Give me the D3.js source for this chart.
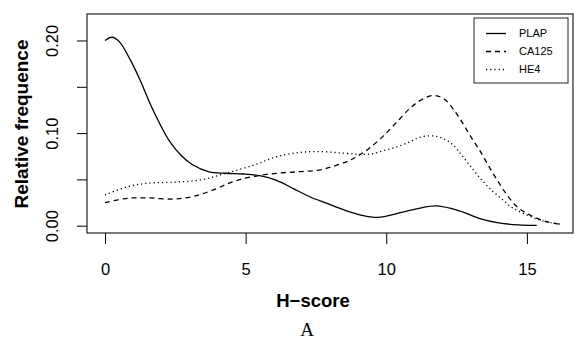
<!DOCTYPE html>
<html>
<head>
<meta charset="utf-8">
<script src="https://cdn.jsdelivr.net/npm/d3@7"></script>
<style>
  body { margin: 0; background: #fff; }
  svg { display: block; font-family: "Liberation Sans", Arial, sans-serif; }
</style>
</head>
<body>
<div id="chart"></div>
<script>
// H-score values and relative frequences
var plapX = [0, 0.25, 0.5, 0.9, 1.25, 1.6, 2.0, 2.3, 2.7, 3.1, 3.7, 4.3, 4.9, 5.5, 6.1, 6.7, 7.3, 7.9, 8.5, 9.1, 9.7, 10.5, 11.2, 11.8, 12.6, 13.3, 14.0, 14.7, 15.35];
var plapY = [0.200, 0.2035, 0.199, 0.179, 0.157, 0.132, 0.107, 0.091, 0.076, 0.066, 0.058, 0.0566, 0.0558, 0.054, 0.049, 0.040, 0.031, 0.024, 0.017, 0.0115, 0.009, 0.014, 0.019, 0.0213, 0.016, 0.008, 0.003, 0.0009, 0.0004];

var ca125X = [0, 0.8, 1.5, 2.4, 3.1, 3.85, 4.55, 5.25, 6.1, 6.9, 7.6, 8.1, 8.5, 8.8, 9.1, 9.4, 9.9, 10.35, 10.85, 11.2, 11.65, 12.05, 12.45, 12.75, 13.05, 13.35, 13.65, 13.95, 14.25, 14.65, 15.1, 15.7, 16.2];
var ca125Y = [0.0248, 0.0296, 0.030, 0.0288, 0.0313, 0.0386, 0.0475, 0.053, 0.0566, 0.0583, 0.060, 0.064, 0.068, 0.072, 0.0774, 0.0836, 0.097, 0.111, 0.127, 0.135, 0.1405, 0.137, 0.123, 0.109, 0.094, 0.080, 0.064, 0.049, 0.035, 0.0205, 0.0116, 0.0043, 0.0015];

var he4X = [0, 0.8, 1.5, 2.4, 3.4, 4.3, 5.3, 6.1, 6.9, 7.7, 8.4, 9.0, 9.45, 9.9, 10.4, 10.85, 11.2, 11.6, 11.95, 12.35, 12.7, 13.1, 13.45, 13.8, 14.15, 14.5, 15.0, 15.45, 15.85, 16.25];
var he4Y = [0.0332, 0.042, 0.0458, 0.047, 0.0494, 0.0566, 0.0655, 0.0745, 0.079, 0.080, 0.0785, 0.0771, 0.0774, 0.081, 0.0853, 0.0907, 0.0955, 0.097, 0.095, 0.088, 0.0755, 0.060, 0.0475, 0.0367, 0.0278, 0.019, 0.0116, 0.0062, 0.0032, 0.0015];

var seriesNames = ["PLAP", "CA125", "HE4"];
var xTicks = [0, 5, 10, 15];
var yTicks = [0, 0.05, 0.10, 0.15, 0.20];
var yLabels = ["0.00", "", "0.10", "", "0.20"];

var width = 574, height = 340;
var box = { left: 87, right: 573, top: 14, bottom: 233 };
var dashes = { PLAP: null, CA125: "5,4", HE4: "1.2,3" };

var svg = d3.select("#chart").append("svg")
  .attr("width", width)
  .attr("height", height);

var x = d3.scaleLinear().domain([-0.64, 16.64]).range([box.left, box.right]);
var y = d3.scaleLinear().domain([-0.0079, 0.2286]).range([box.bottom, box.top]);

//Axes
var xAxis = d3.axisBottom(x).tickValues(xTicks).tickSize(11).tickFormat(d3.format("d"));
svg.append("g")
  .attr("transform", "translate(0," + box.bottom + ")")
  .call(xAxis)
  .call(g => g.select(".domain").remove())
  .call(g => g.selectAll("line").attr("stroke", "#000"))
  .call(g => g.selectAll("text")
    .attr("y", 42).attr("dy", null)
    .attr("font-family", "Liberation Sans, Arial, sans-serif")
    .attr("font-size", 16.5).attr("fill", "#000"));

var yAxis = d3.axisLeft(y).tickValues(yTicks).tickSize(10)
  .tickFormat((d, i) => yLabels[i]);
svg.append("g")
  .attr("transform", "translate(" + box.left + ",0)")
  .call(yAxis)
  .call(g => g.select(".domain").remove())
  .call(g => g.selectAll("line").attr("stroke", "#000"))
  .call(g => g.selectAll("text")
    .attr("x", null).attr("dy", null)
    .attr("text-anchor", "middle")
    .attr("transform", "translate(-29.5,0) rotate(-90)")
    .attr("font-family", "Liberation Sans, Arial, sans-serif")
    .attr("font-size", 16.5).attr("fill", "#000"));

//Plot box
svg.append("rect")
  .attr("x", box.left).attr("y", box.top)
  .attr("width", box.right - box.left).attr("height", box.bottom - box.top)
  .attr("fill", "none").attr("stroke", "#222").attr("stroke-width", 1.2);

//Curves
var line = d3.line()
  .x(d => x(d[0]))
  .y(d => y(d[1]))
  .curve(d3.curveCatmullRom.alpha(0.5));

var series = [
  { name: "PLAP", pts: d3.zip(plapX, plapY) },
  { name: "CA125", pts: d3.zip(ca125X, ca125Y) },
  { name: "HE4", pts: d3.zip(he4X, he4Y) }
];

svg.selectAll(".curve")
  .data(series)
  .enter().append("path")
  .attr("class", "curve")
  .attr("d", d => line(d.pts))
  .attr("fill", "none")
  .attr("stroke", "#000")
  .attr("stroke-width", 1.3)
  .attr("stroke-dasharray", d => dashes[d.name]);

//Legend
svg.append("rect")
  .attr("x", 474).attr("y", 18)
  .attr("width", 94).attr("height", 65)
  .attr("fill", "#fff").attr("stroke", "#222").attr("stroke-width", 1);

var legend = svg.selectAll(".legend")
  .data(seriesNames)
  .enter().append("g")
  .attr("class", "legend")
  .attr("transform", (d, i) => "translate(0," + (33.5 + i * 18) + ")");

legend.append("line")
  .attr("x1", 486).attr("x2", 506)
  .attr("stroke", "#000").attr("stroke-width", 1.3)
  .attr("stroke-dasharray", d => dashes[d]);

legend.append("text")
  .attr("x", 519).attr("dy", "0.36em")
  .attr("font-size", 11)
  .text(d => d);

//Titles
svg.append("text")
  .attr("x", 313).attr("y", 307)
  .attr("text-anchor", "middle")
  .attr("font-weight", "bold").attr("font-size", 18.5)
  .text("H\u2212score");

svg.append("text")
  .attr("transform", "translate(28,124) rotate(-90)")
  .attr("text-anchor", "middle")
  .attr("font-weight", "bold").attr("font-size", 19)
  .text("Relative frequence");

svg.append("text")
  .attr("x", 307).attr("y", 336)
  .attr("text-anchor", "middle")
  .attr("font-family", "Liberation Serif, Times New Roman, serif")
  .attr("font-size", 19)
  .text("A");
</script>
</body>
</html>
